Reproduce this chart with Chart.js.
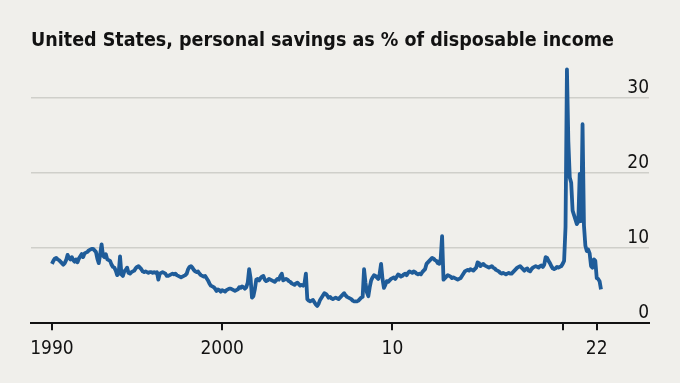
<!DOCTYPE html>
<html>
<head>
<meta charset="utf-8">
<script src="https://cdn.jsdelivr.net/npm/chart.js@4/dist/chart.umd.min.js"></script>
<style>
  html, body { margin: 0; padding: 0; background: #f0efeb; }
  #c { display: block; }
</style>
</head>
<body>
<canvas id="c" width="680" height="383"></canvas>
<script>
// ---- Data (monthly, % of disposable income) ----
const startYear = 1990;
const savings1990s = [
  7.9, 8.3, 8.6, 8.7, 8.5, 8.4, 8.2, 8.0, 7.8, 8.0, 8.4, 9.1,
  8.7, 8.5, 8.8, 8.4, 8.2, 8.5, 8.1, 8.6, 8.9, 9.2, 8.8, 9.3,
  9.4, 9.5, 9.7, 9.8, 9.9, 9.9, 9.7, 9.5, 8.6, 8.0, 9.2, 10.5,
  9.0, 8.8, 9.2, 8.5, 8.4, 8.3, 7.8, 7.5, 7.4, 7.0, 6.4, 6.6,
  8.9, 6.5, 6.3, 6.9, 7.1, 7.4, 6.7, 6.6, 6.8, 6.9, 7.0, 7.3,
  7.5, 7.6, 7.4, 7.2, 6.9, 6.8, 6.9, 6.8, 6.7, 6.8, 6.8, 6.7,
  6.8, 6.7, 6.8, 5.8, 6.6, 6.7, 6.8, 6.7, 6.6, 6.3, 6.3, 6.4,
  6.5, 6.6, 6.5, 6.6, 6.4, 6.3, 6.2, 6.1, 6.2, 6.3, 6.4, 6.6,
  7.2, 7.5, 7.6, 7.4, 7.1, 6.9, 6.8, 6.9, 6.6, 6.4, 6.3, 6.2,
  6.3, 6.0, 5.7, 5.3, 5.0, 4.9, 4.8, 4.6, 4.3, 4.5, 4.4, 4.2
];
const savings2000s = [
  4.4, 4.3, 4.2, 4.4, 4.5, 4.6, 4.6, 4.5, 4.4, 4.3, 4.4, 4.5,
  4.8, 4.7, 4.9, 4.8, 4.6, 4.8, 5.4, 7.2, 6.0, 3.4, 3.6, 4.5,
  5.8, 5.9, 5.7, 6.0, 6.2, 6.3, 5.8, 5.6, 5.7, 5.9, 5.8, 5.7,
  5.6, 5.5, 5.7, 5.9, 5.8, 6.3, 6.6, 5.7, 5.8, 5.9, 5.8, 5.6,
  5.5, 5.3, 5.2, 5.1, 5.3, 5.4, 5.2, 5.0, 5.1, 5.0, 5.3, 6.6,
  3.2, 3.0, 2.9, 3.0, 3.1, 2.8, 2.5, 2.3, 2.6, 3.1, 3.4, 3.7,
  4.0, 3.9, 3.7, 3.4, 3.5, 3.3, 3.2, 3.3, 3.4, 3.3, 3.2, 3.4,
  3.6, 3.8, 4.0, 3.7, 3.5, 3.4, 3.3, 3.2, 3.0, 2.9, 2.9, 2.9,
  3.0, 3.2, 3.4, 3.5, 7.2, 5.4, 4.1, 3.6, 4.8, 5.7, 6.1, 6.4,
  6.3, 6.1, 5.9, 6.6, 7.9, 5.9, 4.7, 5.1, 5.6, 5.5, 5.7, 5.9
];
const savings2010s = [
  6.0, 6.1, 5.9, 6.2, 6.5, 6.4, 6.2, 6.3, 6.5, 6.6, 6.4, 6.7,
  6.9, 6.8, 6.7, 6.9, 6.8, 6.6, 6.5, 6.6, 6.5, 6.8, 7.0, 7.2,
  7.9, 8.1, 8.3, 8.5, 8.7, 8.6, 8.4, 8.3, 8.0, 7.9, 8.6, 11.6,
  5.8, 6.0, 6.2, 6.4, 6.3, 6.2, 6.0, 6.1, 6.0, 5.9, 5.8, 5.9,
  6.0, 6.3, 6.6, 6.9, 7.0, 7.1, 7.0, 7.2, 7.1, 7.0, 7.2, 7.4,
  8.1, 8.0, 7.6, 7.8, 7.9, 7.7, 7.6, 7.5, 7.4, 7.5, 7.6, 7.4,
  7.3, 7.1, 7.0, 6.9, 6.7, 6.6, 6.7, 6.6, 6.5, 6.6, 6.7, 6.6,
  6.6, 6.8, 7.0, 7.2, 7.4, 7.5, 7.6, 7.4, 7.2, 7.0, 7.2, 7.3,
  7.0, 6.9, 7.2, 7.4, 7.5, 7.6, 7.5, 7.4, 7.6, 7.7, 7.5, 7.8,
  8.8, 8.7, 8.3, 8.0, 7.6, 7.3, 7.2, 7.3, 7.5, 7.4, 7.5, 7.6
];
const savings2020s = [
  7.9, 8.3, 12.8, 33.8, 24.2, 19.4, 18.7, 15.0, 14.4, 13.8, 13.2, 13.5,
  19.9, 13.6, 26.5, 13.0, 10.3, 9.6, 9.8, 9.3, 7.6, 7.4, 8.5, 8.3,
  6.0, 5.9, 5.6, 4.5
];
const xTickYears = [1990, 2000, 2010, 2020, 2022];
const xTickLabels = ['1990', '2000', '10', '', '22'];
const yTickValues = [0, 10, 20, 30];
const titleText = 'United States, personal savings as % of disposable income';

const monthly = [].concat(savings1990s, savings2000s, savings2010s, savings2020s);
const points = monthly.map((v, i) => ({ x: startYear + i / 12, y: v }));

const FONT = "'Liberation Sans Narrow', 'DejaVu Sans Condensed', 'Roboto Condensed', sans-serif";
const INK = '#121212';

new Chart(document.getElementById('c'), {
  type: 'line',
  data: {
    datasets: [{
      data: points,
      borderColor: '#1f5c99',
      borderWidth: 3.8,
      pointRadius: 0,
      tension: 0,
      fill: false,
      borderJoinStyle: 'round'
    }]
  },
  options: {
    responsive: false,
    devicePixelRatio: 1,
    animation: false,
    layout: { padding: { left: 31, right: 31, top: 0, bottom: 16 } },
    plugins: {
      legend: { display: false },
      tooltip: { enabled: false },
      title: {
        display: true,
        text: titleText,
        align: 'start',
        color: INK,
        font: { family: FONT, size: 19.5, weight: 'bold' },
        padding: { top: 29, bottom: 8 }
      }
    },
    scales: {
      x: {
        type: 'linear',
        min: 1988.77,
        max: 2025.07,
        afterBuildTicks: (s) => { s.ticks = xTickYears.map(v => ({ value: v })); },
        ticks: {
          autoSkip: false,
          maxRotation: 0,
          color: INK,
          padding: 7,
          font: { family: FONT, size: 19 },
          callback: (v, i) => xTickLabels[i]
        },
        grid: {
          drawOnChartArea: false,
          drawTicks: true,
          tickLength: 7,
          color: INK,
          lineWidth: 2
        },
        border: { display: true, color: INK, width: 2 }
      },
      y: {
        position: 'right',
        min: 0,
        max: 35,
        afterBuildTicks: (s) => { s.ticks = yTickValues.map(v => ({ value: v })); },
        ticks: {
          mirror: true,
          padding: 0,
          labelOffset: -10,
          color: INK,
          font: { family: FONT, size: 19 },
          callback: (v) => String(v)
        },
        grid: {
          drawTicks: false,
          color: (ctx) => (ctx.tick && ctx.tick.value === 0) ? 'rgba(0,0,0,0)' : '#cfcfca',
          lineWidth: 1.5
        },
        border: { display: false }
      }
    }
  }
});
</script>
</body>
</html>
